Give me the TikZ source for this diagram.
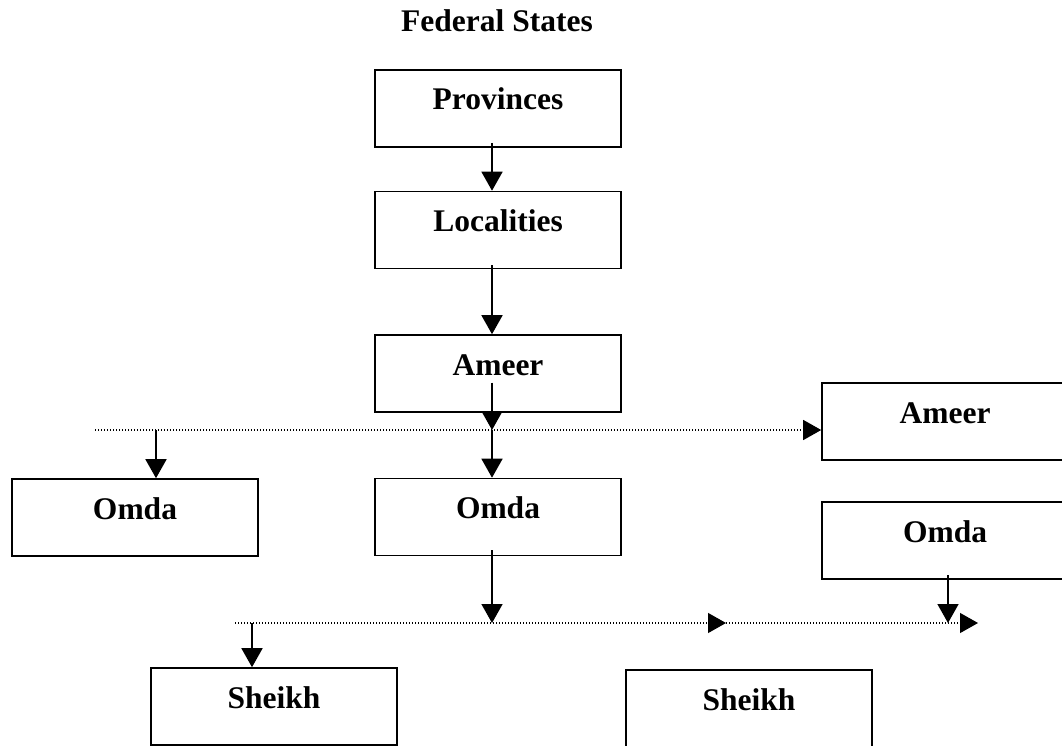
\documentclass[tikz,border=0pt]{standalone}
\usepackage{fontspec}
\setmainfont{Liberation Serif}
\usetikzlibrary{arrows.meta}
\begin{document}
\begin{tikzpicture}[x=1pt,y=-1pt,
  lbl/.style={font=\bfseries\fontsize{31.5}{36}\selectfont},
  box/.style={lbl, draw, line width=1.6pt, minimum width=246pt, minimum height=77pt,
    inner sep=0pt, text height=10pt, text depth=7pt},
  arr/.style={line width=1.6pt, -{Triangle[width=21pt,length=19pt]}},
  dotline/.style={line width=1.2pt, dash pattern=on 1.2pt off 1.8pt, -{Triangle[width=20pt,length=18pt]}}]
\path[use as bounding box] (0,0) rectangle (1062,746);
\clip (0,0) rectangle (1062,746);

\node[lbl, anchor=base] (title) at (497,32) {Federal States};

\node[box] (prov)    at (498,108.5) {Provinces};
\node[box] (loc)     at (498,230)   {Localities};
\node[box] (ameer)   at (498,373.5) {Ameer};
\node[box] (ameerR)  at (945,421.5) {Ameer};
\node[box] (omdaL)   at (135,517.5) {Omda};
\node[box] (omdaM)   at (498,517)   {Omda};
\node[box] (omdaR)   at (945,540.5) {Omda};
\node[box] (sheikhL) at (274,706.5) {Sheikh};
\node[box] (sheikhR) at (749,708.5) {Sheikh};

\coordinate (d1s) at (95,430);
\coordinate (j1)  at (492,430);
\coordinate (l1)  at (156,430);
\coordinate (d2s) at (235,623);
\coordinate (j2)  at (492,623);
\coordinate (d2m) at (726,623);
\coordinate (r2)  at (948,623);
\coordinate (d2e) at (978,623);
\coordinate (l2)  at (252,623);

% vertical chain
\draw[arr] ([xshift=-6pt,yshift=5pt]prov.south) -- ([xshift=-6pt]loc.north);
\draw[arr] ([xshift=-6pt,yshift=4pt]loc.south) -- ([xshift=-6pt]ameer.north);
\draw[arr] ([xshift=-6pt,yshift=-9pt]ameer.center) -- (j1);
\draw[arr] (j1) -- ([xshift=-6pt]omdaM.north);

% first dotted line
\draw[dotline] (d1s) -- (d1s -| ameerR.west);
\draw[arr] (l1) -- (l1 |- omdaL.north);

% second level
\draw[arr] ([xshift=-6pt,yshift=6pt]omdaM.south) -- (j2);
\draw[dotline] (d2s) -- (d2m);
\draw[dotline] (d2m) -- (d2e);
\draw[arr] ([xshift=3pt,yshift=-34.5pt]omdaR.center) -- (r2);
\draw[arr] (l2) -- (l2 |- sheikhL.north);
\end{tikzpicture}
\end{document}
